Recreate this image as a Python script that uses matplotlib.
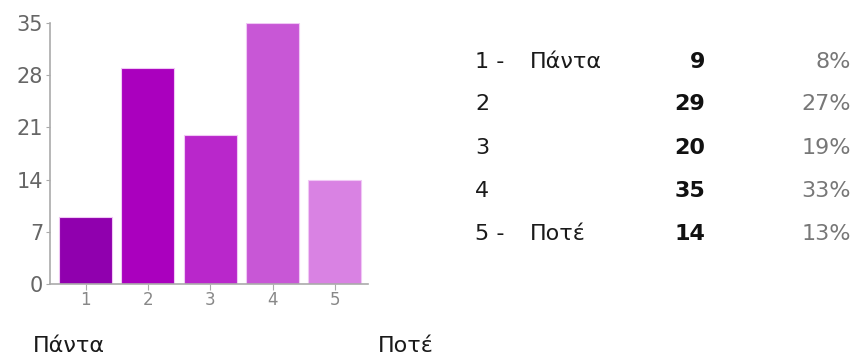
import numpy as np
import matplotlib
matplotlib.use('Agg')
import matplotlib.pyplot as plt

plt.rcParams['font.family'] = ['DejaVu Sans']

# data
categories = [1, 2, 3, 4, 5]
counts = [9, 29, 20, 35, 14]
percents = ['8%', '27%', '19%', '33%', '13%']
row_labels = ['1 -', '2', '3', '4', '5 -']
row_names = ['Πάντα', '', '', '', 'Ποτέ']
yticks = [0, 7, 14, 21, 28, 35]
bar_colors = ['#9000ae', '#aa00be', '#b927cb', '#c857d6', '#d982e3']

W, H = 859, 360
fig = plt.figure(figsize=(W / 100, H / 100), dpi=100)

# axes box in pixel coords: left 50, right 368, top 23, bottom 284
ax = fig.add_axes([50 / W, 1 - 284 / H, (368 - 50) / W, (284 - 23) / H])
ax.bar(categories, counts, width=0.85, color=bar_colors,
       edgecolor='#f0c8f5', linewidth=0.8)
ax.set_xlim(0.43, 5.53)
ax.set_ylim(0, 35)
ax.set_yticks(yticks)
ax.set_xticks(categories)
for s in ['top', 'right']:
    ax.spines[s].set_visible(False)
for s in ['left', 'bottom']:
    ax.spines[s].set_color('#aaaaaa')
    ax.spines[s].set_linewidth(1.2)
ax.tick_params(axis='y', colors='#aaaaaa', labelcolor='#666666', labelsize=15,
               length=3, pad=2)
ax.tick_params(axis='x', colors='#aaaaaa', labelcolor='#888888', labelsize=12,
               length=4, pad=1)

# side table (baselines in pixels)
row_base = [67.5, 110.5, 154, 197, 240]
for lab, name, c, p, y in zip(row_labels, row_names, counts, percents, row_base):
    fy = 1 - y / H
    fig.text(475 / W, fy, lab, fontsize=16, va='baseline', ha='left', color='#1a1a1a')
    fig.text(530 / W, fy, name, fontsize=16, va='baseline', ha='left', color='#1a1a1a')
    fig.text(705 / W, fy, str(c), fontsize=16, va='baseline', ha='right',
             fontweight='bold', color='#111111')
    fig.text(851 / W, fy, p, fontsize=16, va='baseline', ha='right', color='#777777')

# scale end labels
fig.text(33 / W, 1 - 352.5 / H, 'Πάντα', fontsize=16, va='baseline', ha='left', color='#1a1a1a')
fig.text(378 / W, 1 - 352.5 / H, 'Ποτέ', fontsize=16, va='baseline', ha='left', color='#1a1a1a')

plt.savefig('out.png', dpi=100)
